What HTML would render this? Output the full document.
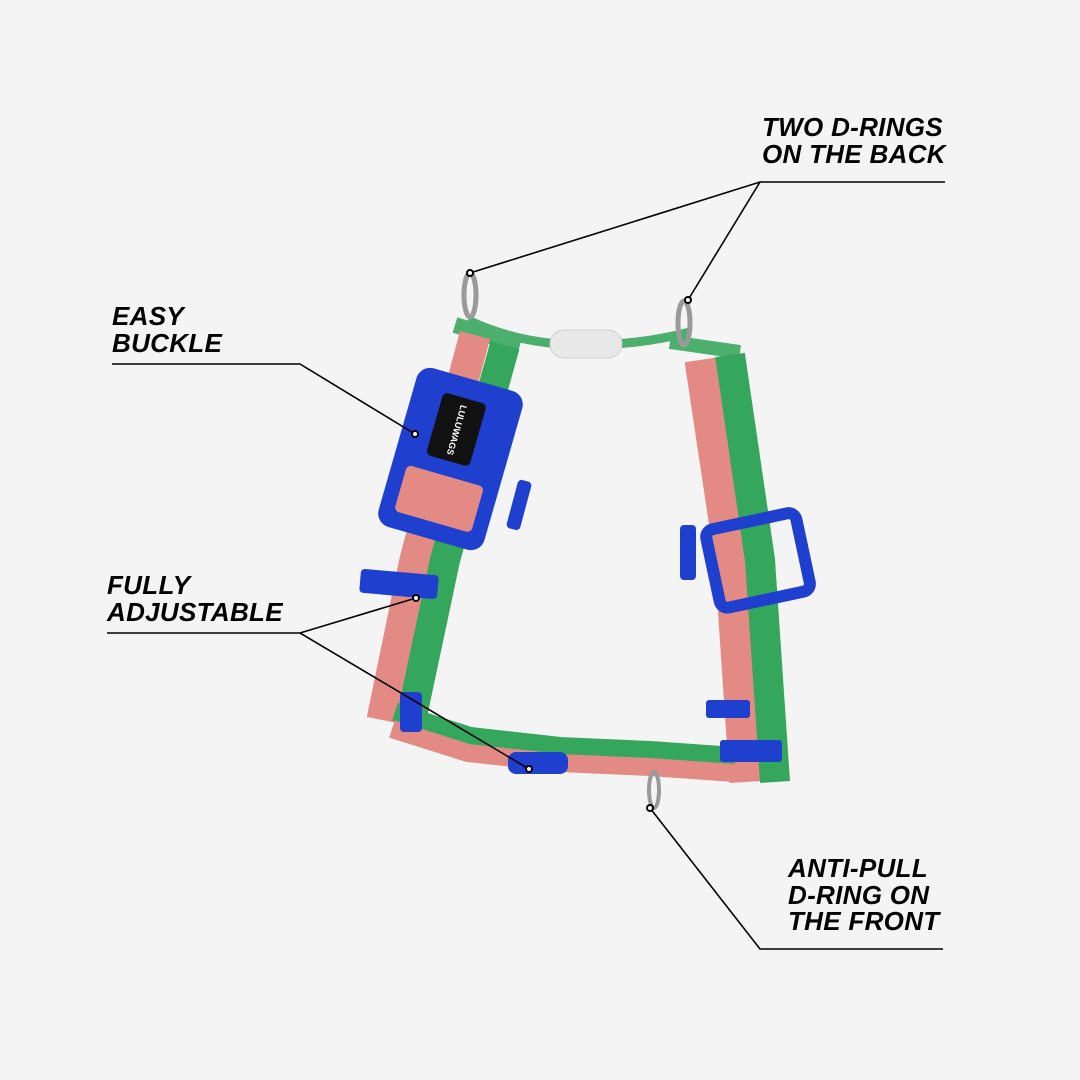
<!DOCTYPE html>
<html><head><meta charset="utf-8"><style>
html,body{margin:0;padding:0;background:#f4f4f4}
body{width:1080px;height:1080px;position:relative;overflow:hidden}
.l{position:absolute;font-family:"Liberation Sans",sans-serif;font-weight:bold;font-style:italic;font-size:26px;line-height:26.5px;color:#000;letter-spacing:0.3px}
svg{position:absolute;left:0;top:0}
</style></head><body>
<svg width="1080" height="1080" viewBox="0 0 1080 1080">
<g fill="none" stroke-linejoin="round" stroke-linecap="butt">
<!-- top cord -->
<path d="M468 320 Q520 345 585 345 Q640 345 690 332" stroke="#4caf6e" stroke-width="9"/>
<path d="M455 325 L520 345" stroke="#4caf6e" stroke-width="16"/>
<path d="M670 342 L740 352" stroke="#4caf6e" stroke-width="14"/>
<!-- left strap -->
<path d="M475 335 L415 560 L382 720" stroke="#e48a84" stroke-width="31"/>
<path d="M505 345 L445 560 L410 725" stroke="#35a75c" stroke-width="30"/>
<!-- right strap -->
<path d="M700 360 L730 560 L745 782" stroke="#e48a84" stroke-width="31"/>
<path d="M730 355 L760 560 L775 782" stroke="#35a75c" stroke-width="30"/>
<!-- bottom strap -->
<path d="M395 712 L470 736 L560 746 L650 750 L735 756" stroke="#35a75c" stroke-width="18"/>
<path d="M392 729 L468 753 L560 763 L650 767 L735 773" stroke="#e48a84" stroke-width="18"/>
</g>
<!-- white piece -->
<rect x="550" y="330" width="72" height="28" rx="14" fill="#e8e8e8" stroke="#cfcfcf"/>
<!-- D rings -->
<ellipse cx="470" cy="295" rx="6" ry="22" fill="none" stroke="#9a9a9a" stroke-width="5"/>
<ellipse cx="684" cy="323" rx="6" ry="22" fill="none" stroke="#9a9a9a" stroke-width="5"/>
<ellipse cx="654" cy="790" rx="5" ry="18" fill="none" stroke="#9a9a9a" stroke-width="4"/>
<!-- buckle -->
<g transform="rotate(16 445 460)">
<rect x="395" y="375" width="110" height="165" rx="14" fill="#1f3fcf"/>
<rect x="410" y="475" width="80" height="48" rx="5" fill="#e48a84"/>
<rect x="425" y="395" width="45" height="65" rx="5" fill="#111"/>
<text x="447" y="430" fill="#fff" font-family="Liberation Sans" font-size="9" font-weight="bold" text-anchor="middle" transform="rotate(90 447 428)">LULUWAGS</text>
</g>
<!-- sliders -->
<g transform="rotate(-12 760 560)">
<rect x="712" y="520" width="92" height="80" rx="8" fill="none" stroke="#1f3fcf" stroke-width="12"/>
</g>
<rect x="680" y="525" width="16" height="55" rx="4" fill="#1f3fcf"/>
<rect x="512" y="480" width="14" height="50" rx="4" fill="#1f3fcf" transform="rotate(15 519 505)"/>
<rect x="360" y="572" width="78" height="24" rx="4" fill="#1f3fcf" transform="rotate(5 399 584)"/>
<rect x="400" y="692" width="22" height="40" rx="4" fill="#1f3fcf"/>
<rect x="508" y="752" width="60" height="22" rx="8" fill="#1f3fcf"/>
<rect x="706" y="700" width="44" height="18" rx="3" fill="#1f3fcf"/>
<rect x="720" y="740" width="62" height="22" rx="3" fill="#1f3fcf"/>
<!-- leader lines -->
<g stroke="#000" stroke-width="1.6" fill="none">
<path d="M945 182 L760 182 L470 273"/>
<path d="M760 182 L688 300"/>
<path d="M112 364 L300 364 L415 434"/>
<path d="M107 633 L300 633 L416 598"/>
<path d="M300 633 L529 769"/>
<path d="M943 949 L760 949 L650 808"/>
</g>
<g fill="#fff" stroke="#000" stroke-width="2">
<circle cx="470" cy="273" r="3"/><circle cx="688" cy="300" r="3"/><circle cx="415" cy="434" r="3"/>
<circle cx="416" cy="598" r="3"/><circle cx="529" cy="769" r="3"/><circle cx="650" cy="808" r="3"/>
</g>
</svg>
<div class="l" style="left:762px;top:114px">TWO D-RINGS<br>ON THE BACK</div>
<div class="l" style="left:112px;top:303px">EASY<br>BUCKLE</div>
<div class="l" style="left:107px;top:572px">FULLY<br>ADJUSTABLE</div>
<div class="l" style="left:788px;top:855px">ANTI-PULL<br>D-RING ON<br>THE FRONT</div>
</body></html>
